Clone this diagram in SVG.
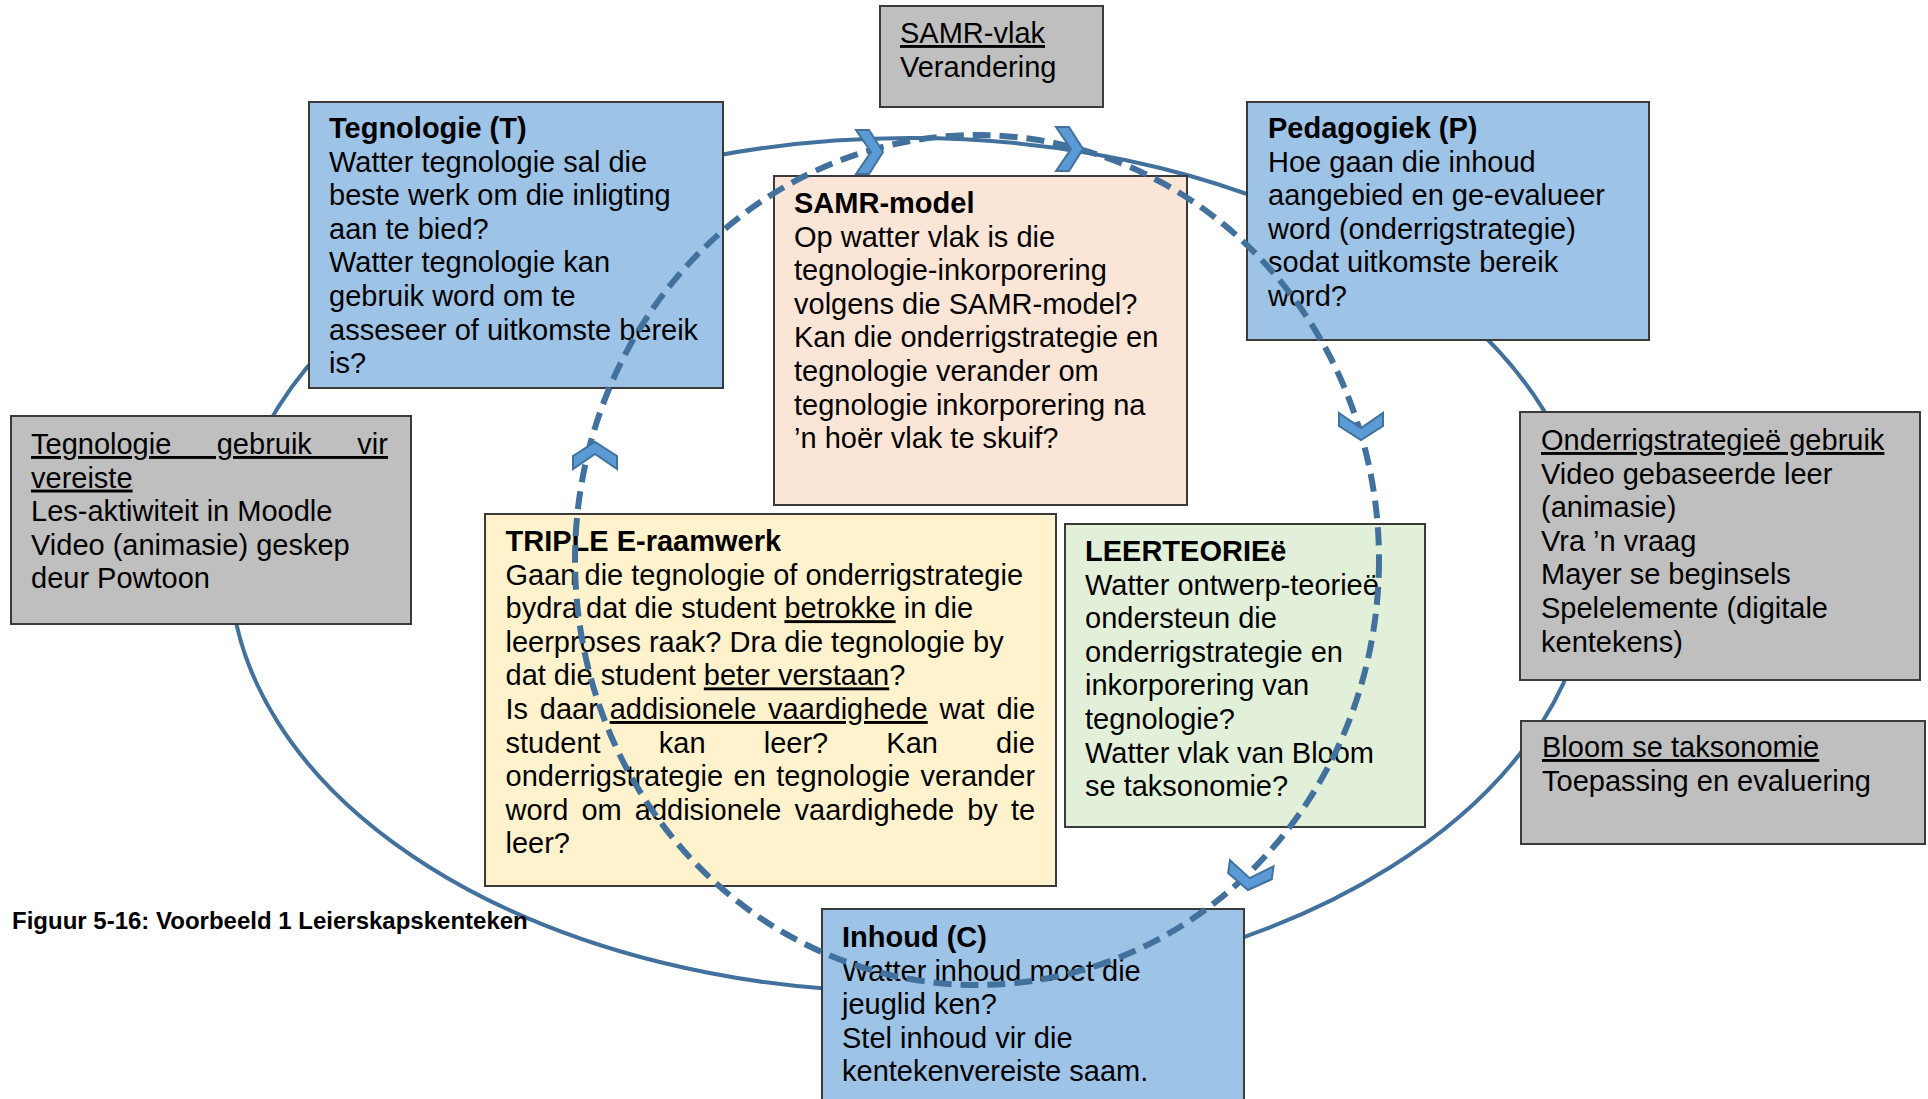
<svg xmlns="http://www.w3.org/2000/svg" xmlns:xlink="http://www.w3.org/1999/xlink" width="1928" height="1099" viewBox="0 0 1928 1099">
  <style>
    .box { stroke: #3a3a3a; stroke-width: 2; }
    .blue { fill: #9dc3e6; }
    .grey { fill: #bfbfbf; }
    .peach { fill: #fbe5d6; }
    .cream { fill: #fff2cc; }
    .mint { fill: #e2f0d9; }
    .t { font-family: "Liberation Sans", Arial, sans-serif; font-size: 29px; fill: #000; }
    .b { font-weight: bold; }
    .u { text-decoration: underline; }
    .cap { font-family: "Liberation Sans", Arial, sans-serif; font-size: 24px; font-weight: bold; fill: #000; }
    .ring { fill: none; stroke: #41719c; stroke-width: 4; }
    .cycle { fill: none; stroke: #41719c; stroke-width: 6; stroke-dasharray: 18 9; }
    .chev { fill: #5b9bd5; stroke: #41719c; stroke-width: 2; stroke-linejoin: miter; }
  </style>
  <defs>
    <!-- chevron pointing down, tip at origin -->
    <path id="chev" d="M-22,-27 L0,-12 L22,-27 L22,-14 L0,0 L-22,-14 Z"/>
  </defs>

  <rect width="1928" height="1099" fill="#ffffff"/>

  <!-- outer ring behind the boxes -->
  <g id="outer-ring">
    <ellipse class="ring" cx="910" cy="565" rx="680" ry="427"/>
  </g>

  <g id="samr-vlak">
    <rect class="box grey" x="880" y="6" width="223" height="101"/>
    <text class="t"><tspan x="900" y="43" class="u">SAMR-vlak</tspan><tspan x="900" y="77">Verandering</tspan></text>
  </g>

  <g id="tegnologie">
    <rect class="box blue" x="309" y="102" width="414" height="286"/>
    <text class="t">
      <tspan x="329" y="138" class="b">Tegnologie (T)</tspan>
      <tspan x="329" y="171.6">Watter tegnologie sal die</tspan>
      <tspan x="329" y="205.2">beste werk om die inligting</tspan>
      <tspan x="329" y="238.8">aan te bied?</tspan>
      <tspan x="329" y="272.4">Watter tegnologie kan</tspan>
      <tspan x="329" y="306">gebruik word om te</tspan>
      <tspan x="329" y="339.6">asseseer of uitkomste bereik</tspan>
      <tspan x="329" y="373.2">is?</tspan>
    </text>
  </g>

  <g id="pedagogiek">
    <rect class="box blue" x="1247" y="102" width="402" height="238"/>
    <text class="t">
      <tspan x="1268" y="138" class="b">Pedagogiek (P)</tspan>
      <tspan x="1268" y="171.6">Hoe gaan die inhoud</tspan>
      <tspan x="1268" y="205.2">aangebied en ge-evalueer</tspan>
      <tspan x="1268" y="238.8">word (onderrigstrategie)</tspan>
      <tspan x="1268" y="272.4">sodat uitkomste bereik</tspan>
      <tspan x="1268" y="306">word?</tspan>
    </text>
  </g>

  <g id="samr-model">
    <rect class="box peach" x="774" y="176" width="413" height="329"/>
    <text class="t">
      <tspan x="794" y="213" class="b">SAMR-model</tspan>
      <tspan x="794" y="246.6">Op watter vlak is die</tspan>
      <tspan x="794" y="280.2">tegnologie-inkorporering</tspan>
      <tspan x="794" y="313.8">volgens die SAMR-model?</tspan>
      <tspan x="794" y="347.4">Kan die onderrigstrategie en</tspan>
      <tspan x="794" y="381">tegnologie verander om</tspan>
      <tspan x="794" y="414.6">tegnologie inkorporering na</tspan>
      <tspan x="794" y="448.2">’n hoër vlak te skuif?</tspan>
    </text>
  </g>

  <g id="tegnologie-gebruik">
    <rect class="box grey" x="11" y="416" width="400" height="208"/>
    <text class="t">
      <tspan x="31" y="454" class="u" word-spacing="37.4">Tegnologie gebruik vir</tspan>
      <tspan x="31" y="487.6" class="u">vereiste</tspan>
      <tspan x="31" y="521.2">Les-aktiwiteit in Moodle</tspan>
      <tspan x="31" y="554.8">Video (animasie) geskep</tspan>
      <tspan x="31" y="588.4">deur Powtoon</tspan>
    </text>
  </g>

  <g id="triple-e">
    <rect class="box cream" x="485" y="514" width="571" height="372"/>
    <text class="t">
      <tspan x="505.5" y="551" class="b">TRIPLE E-raamwerk</tspan>
      <tspan x="505.5" y="584.6">Gaan die tegnologie of onderrigstrategie</tspan>
      <tspan x="505.5" y="618.2">bydra dat die student <tspan class="u">betrokke</tspan> in die</tspan>
      <tspan x="505.5" y="651.8">leerproses raak? Dra die tegnologie by</tspan>
      <tspan x="505.5" y="685.4">dat die student <tspan class="u">beter verstaan</tspan>?</tspan>
      <tspan x="505.5" y="719" word-spacing="3.7">Is daar <tspan class="u">addisionele vaardighede</tspan> wat die</tspan>
      <tspan x="505.5" y="752.6" word-spacing="50.1">student kan leer? Kan die</tspan>
      <tspan x="505.5" y="786.2" word-spacing="2.4">onderrigstrategie en tegnologie verander</tspan>
      <tspan x="505.5" y="819.8" word-spacing="5">word om addisionele vaardighede by te</tspan>
      <tspan x="505.5" y="853.4">leer?</tspan>
    </text>
  </g>

  <g id="leerteorie">
    <rect class="box mint" x="1065" y="524" width="360" height="303"/>
    <text class="t">
      <tspan x="1085" y="561" class="b">LEERTEORIEë</tspan>
      <tspan x="1085" y="594.6">Watter ontwerp-teorieë</tspan>
      <tspan x="1085" y="628.2">ondersteun die</tspan>
      <tspan x="1085" y="661.8">onderrigstrategie en</tspan>
      <tspan x="1085" y="695.4">inkorporering van</tspan>
      <tspan x="1085" y="729">tegnologie?</tspan>
      <tspan x="1085" y="762.6">Watter vlak van Bloom</tspan>
      <tspan x="1085" y="796.2">se taksonomie?</tspan>
    </text>
  </g>

  <g id="onderrigstrategiee">
    <rect class="box grey" x="1520" y="412" width="400" height="268"/>
    <text class="t">
      <tspan x="1541" y="450" class="u">Onderrigstrategieë gebruik</tspan>
      <tspan x="1541" y="483.6">Video gebaseerde leer</tspan>
      <tspan x="1541" y="517.2">(animasie)</tspan>
      <tspan x="1541" y="550.8">Vra ’n vraag</tspan>
      <tspan x="1541" y="584.4">Mayer se beginsels</tspan>
      <tspan x="1541" y="618">Spelelemente (digitale</tspan>
      <tspan x="1541" y="651.6">kentekens)</tspan>
    </text>
  </g>

  <g id="bloom">
    <rect class="box grey" x="1521" y="721" width="404" height="123"/>
    <text class="t">
      <tspan x="1542" y="757" class="u">Bloom se taksonomie</tspan>
      <tspan x="1542" y="790.6">Toepassing en evaluering</tspan>
    </text>
  </g>

  <g id="inhoud">
    <rect class="box blue" x="822" y="909" width="422" height="200"/>
    <text class="t">
      <tspan x="842" y="947" class="b">Inhoud (C)</tspan>
      <tspan x="842" y="980.6">Watter inhoud moet die</tspan>
      <tspan x="842" y="1014.2">jeuglid ken?</tspan>
      <tspan x="842" y="1047.8">Stel inhoud vir die</tspan>
      <tspan x="842" y="1081.4">kentekenvereiste saam.</tspan>
    </text>
  </g>

  <g id="caption">
    <text class="cap" x="12" y="929">Figuur 5-16: Voorbeeld 1 Leierskapskenteken</text>
  </g>

  <!-- dashed cycle drawn over the boxes, with its direction chevrons -->
  <g id="connectors">
    <ellipse class="cycle" cx="977" cy="560" rx="402" ry="425"/>
    <use xlink:href="#chev" href="#chev" class="chev" transform="translate(883,152) rotate(-90)"/>
    <use xlink:href="#chev" href="#chev" class="chev" transform="translate(1083,149) rotate(-90)"/>
    <use xlink:href="#chev" href="#chev" class="chev" transform="translate(1361,440)"/>
    <use xlink:href="#chev" href="#chev" class="chev" transform="translate(1248,890) rotate(8)"/>
    <use xlink:href="#chev" href="#chev" class="chev" transform="translate(595,442) rotate(180)"/>
  </g>
</svg>
